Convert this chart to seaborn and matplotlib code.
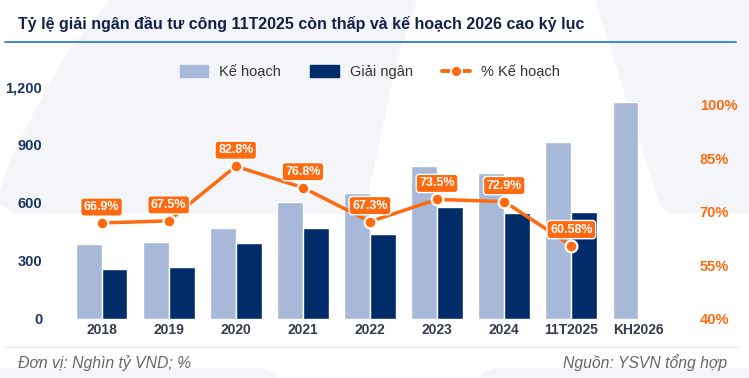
import numpy as np
import pandas as pd
import matplotlib.pyplot as plt
import seaborn as sns
from matplotlib.patches import Patch, Polygon
from matplotlib.lines import Line2D

years = ['2018', '2019', '2020', '2021', '2022', '2023', '2024', '11T2025', 'KH2026']
ke_hoach = [388, 398, 471, 605, 652, 791, 755, 916, 1122]
giai_ngan = [259, 269, 393, 471, 440, 579, 548, 553, np.nan]
pct_ke_hoach = [66.9, 67.5, 82.8, 76.8, 67.3, 73.5, 72.9, 60.58]

left_ticks = [0, 300, 600, 900, 1200]
right_ticks = [40, 55, 70, 85, 100]

c_plan = '#a7b8d8'
c_disb = '#002d69'
c_orange = '#ff6a10'
c_navy = '#1a3566'
c_bg = '#f3f5f9'

df = pd.DataFrame({'year': years * 2,
                   'value': ke_hoach + giai_ngan,
                   'series': ['Kế hoạch'] * len(years) + ['Giải ngân'] * len(years)})

sns.set_style('white')
plt.rcParams['font.family'] = ['Liberation Sans', 'DejaVu Sans']

W, H = 749, 378
fig = plt.figure(figsize=(W / 100, H / 100), dpi=100)
fig.patch.set_facecolor('white')

def px(pts):
    return [(x / W, 1 - y / H) for x, y in pts]

# faint background shapes
left_shape = [(110, 0), (417, 0), (397, 60), (380, 140), (365, 207), (358, 213),
              (14, 213), (0, 205), (0, 190), (10, 160), (35, 110), (63, 60), (85, 30)]
right_shape = [(595, 0), (749, 0), (749, 213), (668, 213), (660, 205), (630, 110)]
foot_left = [(0, 368), (262, 368), (272, 372), (276, 378), (0, 378)]
foot_right = [(480, 378), (484, 372), (494, 368), (749, 368), (749, 378)]
for shp in (left_shape, right_shape, foot_left, foot_right):
    fig.patches.append(Polygon(px(shp), closed=True, transform=fig.transFigure,
                               facecolor=c_bg, edgecolor='none', zorder=-5))

ax = fig.add_axes([68 / W, 1 - 319 / H, (672 - 68) / W, (319 - 87) / H])
ax.patch.set_alpha(0)
sns.barplot(data=df, x='year', y='value', hue='series', order=years,
            hue_order=['Kế hoạch', 'Giải ngân'], palette=[c_plan, c_disb],
            width=0.77, saturation=1, ax=ax, legend=False, errorbar=None)
ax.set_xlim(-0.5, len(years) - 0.5)
ax.set_ylim(0, 1200)
ax.set_yticks(left_ticks)
ax.set_yticklabels([f'{t:,}' for t in left_ticks])
ax.set_xlabel('')
ax.set_ylabel('')
ax.tick_params(axis='y', length=0, pad=18.5, labelsize=10.5, labelcolor=c_navy)
ax.tick_params(axis='x', length=0, pad=3, labelsize=10, labelcolor='#333b4c')
for lab in ax.get_yticklabels() + ax.get_xticklabels():
    lab.set_fontweight('bold')
for s in ax.spines.values():
    s.set_visible(False)

ax2 = ax.twinx()
xs = np.arange(len(pct_ke_hoach))
sns.lineplot(x=xs, y=pct_ke_hoach, ax=ax2, color=c_orange, linewidth=2.5,
             marker='o', markersize=8.5, markerfacecolor=c_orange,
             markeredgecolor='white', markeredgewidth=1.6)
ax2.set_ylim(40, 105)
ax2.set_yticks(right_ticks)
ax2.set_yticklabels([f'{t}%' for t in right_ticks])
ax2.tick_params(axis='y', length=0, pad=20, labelsize=10.5, labelcolor=c_orange)
for lab in ax2.get_yticklabels():
    lab.set_fontweight('bold')
for s in ax2.spines.values():
    s.set_visible(False)
ax.set_xlim(-0.5, len(years) - 0.5)

for x, v in zip(xs, pct_ke_hoach):
    ax2.annotate(f'{v:g}%', (x, v), xytext=(0, 11.5), textcoords='offset points',
                 ha='center', va='center', color='white', fontsize=9, fontweight='bold',
                 bbox=dict(boxstyle='round,pad=0.25,rounding_size=0.25',
                           fc=c_orange, ec='white', lw=1))

handles = [Patch(color=c_plan), Patch(color=c_disb),
           Line2D([0], [0], color=c_orange, lw=2.8, marker='o', markersize=8,
                  markerfacecolor=c_orange, markeredgecolor='white', markeredgewidth=1.4)]
fig.legend(handles, ['Kế hoạch', 'Giải ngân', '% Kế hoạch'], loc='center',
           bbox_to_anchor=(370 / W, 1 - 72 / H), ncol=3, frameon=False,
           fontsize=10.5, labelcolor='#333333', handlelength=1.95, handleheight=0.9,
           columnspacing=2.0, handletextpad=0.75)

fig.text(18 / W, 1 - 24 / H, 'Tỷ lệ giải ngân đầu tư công 11T2025 còn thấp và kế hoạch 2026 cao kỷ lục',
         ha='left', va='center', fontsize=11.5, fontweight='bold', color='#14224a')
fig.add_artist(Line2D([5 / W, 736 / W], [1 - 42 / H, 1 - 42 / H], color='#2d7fd0', lw=1.3))
fig.add_artist(Line2D([5 / W, 740 / W], [1 - 347 / H, 1 - 347 / H], color='#e6e8ee', lw=1))
fig.text(18 / W, 1 - 363 / H, 'Đơn vị: Nghìn tỷ VND; %', ha='left', va='center',
         fontsize=11.3, style='italic', color='#666666')
fig.text(727 / W, 1 - 363 / H, 'Nguồn: YSVN tổng hợp', ha='right', va='center',
         fontsize=11.3, style='italic', color='#666666')

fig.savefig('out.png', dpi=100)
